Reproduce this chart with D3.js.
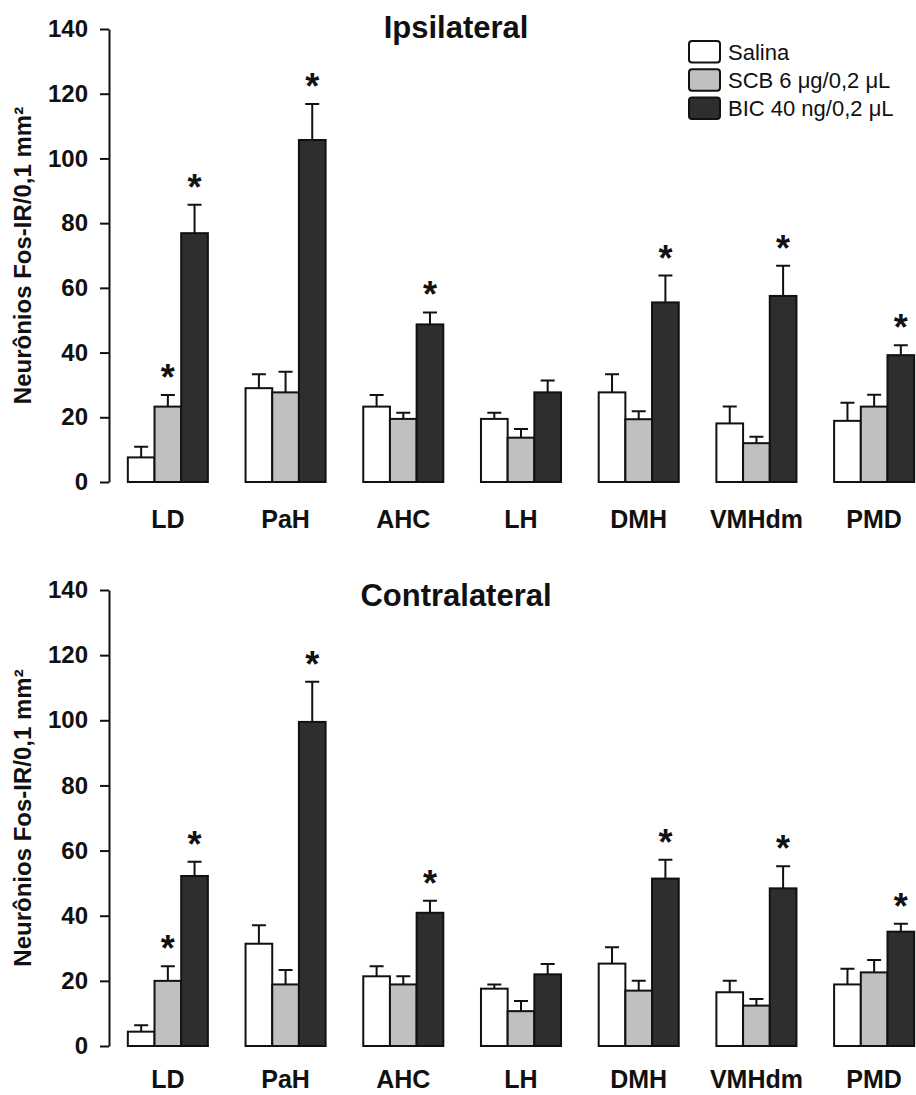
<!DOCTYPE html>
<html>
<head>
<meta charset="utf-8">
<script src="https://cdn.jsdelivr.net/npm/d3@7"></script>
<style>
  body { margin: 0; background: #fff; }
  text { font-family: "Liberation Sans", Arial, sans-serif; }
</style>
</head>
<body>
<script>
// dimensions
var width = 916;
var height = 1095;

// categories and series
var regions = ["LD", "PaH", "AHC", "LH", "DMH", "VMHdm", "PMD"];
var series = ["Salina", "SCB 6 μg/0,2 μL", "BIC 40 ng/0,2 μL"];
var colours = ["#ffffff", "#c0c0c0", "#2e2e2e"];
var yTicks = [0, 20, 40, 60, 80, 100, 120, 140];

// Ipsilateral means and SEM
var ipsiSalina = [7.6, 29.0, 23.3, 19.5, 27.7, 18.1, 18.9];
var ipsiSCB    = [23.3, 27.7, 19.5, 13.7, 19.4, 12.0, 23.3];
var ipsiBIC    = [76.9, 105.7, 48.7, 27.7, 55.5, 57.5, 39.2];
var ipsiSalinaErr = [3.3, 4.3, 3.6, 1.9, 5.6, 5.2, 5.6];
var ipsiSCBErr    = [3.6, 6.4, 1.9, 2.7, 2.5, 2.0, 3.7];
var ipsiBICErr    = [8.8, 11.1, 3.7, 3.7, 8.3, 9.3, 3.1];

// Contralateral means and SEM
var contraSalina = [4.4, 31.4, 21.4, 17.6, 25.3, 16.5, 18.9];
var contraSCB    = [20.0, 18.9, 18.9, 10.7, 17.0, 12.4, 22.6];
var contraBIC    = [52.2, 99.5, 40.9, 22.0, 51.4, 48.4, 35.1];
var contraSalinaErr = [2.0, 5.7, 3.1, 1.3, 5.0, 3.5, 4.8];
var contraSCBErr    = [4.5, 4.4, 2.5, 3.1, 3.0, 2.0, 3.8];
var contraBICErr    = [4.4, 12.3, 3.7, 3.2, 5.8, 6.8, 2.4];

// significance marks (same in both panels)
var starSalina = [0, 0, 0, 0, 0, 0, 0];
var starSCB    = [1, 0, 0, 0, 0, 0, 0];
var starBIC    = [1, 1, 1, 0, 1, 1, 1];

var svg = d3.select("body")
    .append("svg")
    .attr("width", width)
    .attr("height", height);

var x = d3.scaleBand()
    .domain(regions)
    .range([109, 933])
    .paddingInner(0.32)
    .paddingOuter(0.16);

var xs = d3.scaleBand()
    .domain(d3.range(series.length))
    .range([0, x.bandwidth()]);

function drawPanel(title, means, errs, top, bottom, titleY, labelGap) {
    var y = d3.scaleLinear().domain([0, 140]).range([bottom, top]);
    var g = svg.append("g");

    // y axis
    var axis = g.append("g")
        .attr("transform", "translate(109,0)")
        .call(d3.axisLeft(y).tickValues(yTicks).tickSize(9).tickSizeOuter(0).tickPadding(12));
    axis.select(".domain").attr("stroke", "#111").attr("stroke-width", 2);
    axis.selectAll(".tick line").attr("stroke", "#111").attr("stroke-width", 2);
    axis.selectAll(".tick text")
        .attr("fill", "#111")
        .style("font-size", "24px")
        .style("font-weight", "bold");

    // y axis title
    g.append("text")
        .attr("transform", "translate(31," + ((top + bottom) / 2) + ") rotate(-90)")
        .attr("text-anchor", "middle")
        .style("font-size", "24px")
        .style("font-weight", "bold")
        .attr("fill", "#111")
        .text("Neurônios Fos-IR/0,1 mm²");

    // heading
    g.append("text")
        .attr("x", 456)
        .attr("y", titleY)
        .attr("text-anchor", "middle")
        .style("font-size", "31px")
        .style("font-weight", "bold")
        .attr("fill", "#111")
        .text(title);

    // category labels
    g.selectAll(".xlab")
        .data(regions)
        .enter().append("text")
        .attr("x", function(d) { return x(d) + x.bandwidth() / 2; })
        .attr("y", bottom + labelGap)
        .attr("text-anchor", "middle")
        .style("font-size", "25px")
        .style("font-weight", "bold")
        .attr("fill", "#111")
        .text(function(d) { return d; });

    var stars = [starSalina, starSCB, starBIC];

    series.forEach(function(s, si) {
        var rows = regions.map(function(r, i) {
            return { region: r, v: means[si][i], e: errs[si][i], star: stars[si][i] };
        });
        var sg = g.append("g");

        // error bars (upper only)
        sg.selectAll(".err")
            .data(rows)
            .enter().append("path")
            .attr("fill", "none")
            .attr("stroke", "#111")
            .attr("stroke-width", 2)
            .attr("d", function(d) {
                var cx = x(d.region) + xs(si) + xs.bandwidth() / 2;
                return "M" + cx + "," + y(d.v) + "V" + y(d.v + d.e) +
                    "M" + (cx - 7) + "," + y(d.v + d.e) + "H" + (cx + 7);
            });

        sg.selectAll("rect")
            .data(rows)
            .enter().append("rect")
            .attr("x", function(d) { return x(d.region) + xs(si); })
            .attr("y", function(d) { return y(d.v); })
            .attr("width", xs.bandwidth())
            .attr("height", function(d) { return y(0) - y(d.v); })
            .attr("fill", colours[si])
            .attr("stroke", "#111")
            .attr("stroke-width", 2);

        sg.selectAll(".star")
            .data(rows.filter(function(d) { return d.star; }))
            .enter().append("text")
            .attr("x", function(d) { return x(d.region) + xs(si) + xs.bandwidth() / 2; })
            .attr("y", function(d) { return y(d.v + d.e) - 5; })
            .attr("text-anchor", "middle")
            .style("font-size", "36px")
            .style("font-weight", "bold")
            .attr("fill", "#111")
            .text("*");
    });
}

drawPanel("Ipsilateral",
    [ipsiSalina, ipsiSCB, ipsiBIC],
    [ipsiSalinaErr, ipsiSCBErr, ipsiBICErr],
    29, 482, 38, 46);

drawPanel("Contralateral",
    [contraSalina, contraSCB, contraBIC],
    [contraSalinaErr, contraSCBErr, contraBICErr],
    590, 1046, 606, 42);

// legend
var legend = svg.append("g")
    .attr("transform", "translate(689,41)");

legend.selectAll("rect")
    .data(series)
    .enter().append("rect")
    .attr("x", 0)
    .attr("y", function(d, i) { return i * 28.2; })
    .attr("width", 31)
    .attr("height", 21.5)
    .attr("rx", 3)
    .attr("fill", function(d, i) { return colours[i]; })
    .attr("stroke", "#111")
    .attr("stroke-width", 2);

legend.selectAll("text")
    .data(series)
    .enter().append("text")
    .attr("x", 39)
    .attr("y", function(d, i) { return i * 28.2 + 19; })
    .style("font-size", "22px")
    .attr("fill", "#111")
    .text(function(d) { return d; });
</script>
</body>
</html>
